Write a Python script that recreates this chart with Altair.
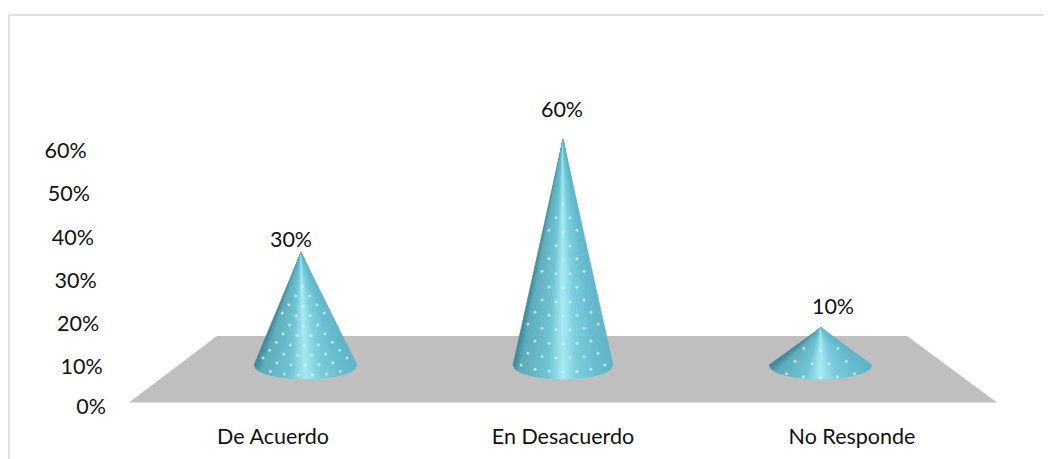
import altair as alt
import pandas as pd

categories = ["De Acuerdo", "En Desacuerdo", "No Responde"]
values = [30, 60, 10]
tick_values = [0, 10, 20, 30, 40, 50, 60]
tick_labels = ["0%", "10%", "20%", "30%", "40%", "50%", "60%"]

W, H = 1036, 451
FONT = "Lato"
FS = 21.5
TXT = "#111111"
CY = 357    # line through the cone base centres, view px
PX = 3.76   # px per percent
DEPTH = 14  # half height of the base ellipse, px
cx = [297.5, 555, 812.5]
hw = [51.5, 50, 51.5]
tip_dx = [-4.5, 0, 0.5]

sx = alt.Scale(domain=[0, W], range=[0, W])
sy = alt.Scale(domain=[CY / PX, (CY - H) / PX], range=[0, H])
spx = alt.Scale(domain=[0, H], range=[0, H])

stops = [
    (-1.0, (62, 135, 150)),
    (-0.85, (92, 172, 188)),
    (-0.3, (110, 196, 212)),
    (0.0, (165, 235, 245)),
    (0.3, (122, 206, 222)),
    (0.7, (102, 190, 208)),
    (1.0, (95, 180, 200)),
]


def shade(t):
    for (t0, c0), (t1, c1) in zip(stops, stops[1:]):
        if t <= t1:
            a = (t - t0) / (t1 - t0)
            rgb = [round(p + (q - p) * a) for p, q in zip(c0, c1)]
            return "#%02x%02x%02x" % tuple(rgb)
    return "#%02x%02x%02x" % stops[-1][1]


# cone wedges: each runs from the apex to one piece of the front base curve
rows = []
N = 48
for idx, (c, v, w, dx) in enumerate(zip(cx, values, hw, tip_dx)):
    for k in range(N):
        t0, t1 = -1 + 2 * k / N, -1 + 2 * (k + 1) / N
        ya = -(DEPTH / PX) * max(0.0, 1 - t0 * t0) ** 0.5
        yb = -(DEPTH / PX) * max(0.0, 1 - t1 * t1) ** 0.5
        tri = sorted([(c + dx, v), (c + w * t0, ya), (c + w * t1, yb)])
        (x0, y0), (x1, y1), (x2, y2) = tri
        other = y0 + (y2 - y0) * (x1 - x0) / (x2 - x0)
        col = shade((t0 + t1) / 2)
        wid = f"{idx}-{k}"
        rows.append({"w": wid, "c": col, "x": x0, "a": y0, "b": y0})
        rows.append({"w": wid, "c": col, "x": x1, "a": y1, "b": other})
        rows.append({"w": wid, "c": col, "x": x2, "a": y2, "b": y2})
cones = pd.DataFrame(rows)

# dot pattern on the cone surface
dots = []
for c, v, w, dx, rows_n, f0 in zip(cx, values, hw, tip_dx, [10, 13, 3], [0.27, 0.27, 0.45]):
    for k in range(rows_n):
        f = f0 + (0.97 - f0) * k / (rows_n - 1)
        half = w * f
        step = 14 if v >= 30 else 17
        off = 0 if k % 2 == 0 else step / 2
        n = int(half / step) + 1
        for j in range(-n, n + 1):
            x = j * step + off
            if abs(x) < half - 3:
                dots.append({
                    "x": c + dx * (1 - f) + x,
                    "y": v * (1 - f) - (DEPTH / PX) * f * (1 - (x / half) ** 2) ** 0.5,
                })
dots = pd.DataFrame(dots)

# floor
front = -(394.5 - CY) / PX
back = (CY - 328) / PX
floor_pts = pd.DataFrame({
    "x": [121, 209, 899, 989],
    "top": [front, back, back, front],
    "low": [front] * 4,
})

floor = alt.Chart(floor_pts).mark_area(color="#bfbfbf", interpolate="linear").encode(
    x=alt.X("x:Q", scale=sx, axis=None),
    y=alt.Y("top:Q", scale=sy, axis=None),
    y2="low:Q",
)

cone = alt.Chart(cones).mark_area(interpolate="linear", strokeWidth=0.6).encode(
    x=alt.X("x:Q", scale=sx, axis=None),
    y=alt.Y("a:Q", scale=sy, axis=None),
    y2="b:Q",
    color=alt.Color("c:N", scale=None),
    stroke=alt.Stroke("c:N", scale=None),
    detail="w:N",
)

dot = alt.Chart(dots).mark_circle(color="#dff8fc", size=9, opacity=0.7).encode(
    x=alt.X("x:Q", scale=sx, axis=None),
    y=alt.Y("y:Q", scale=sy, axis=None),
)

# slanted value axis labels
tick_df = pd.DataFrame({
    "label": tick_labels,
    "v": tick_values,
    "px": [98, 94.7, 91.3, 88.7, 86, 82, 78.7],
    "py": [399.7, 359.7, 317, 274, 231, 187, 143.7],
})
ticks = alt.Chart(tick_df).mark_text(align="right", baseline="middle", font=FONT, fontSize=FS, color=TXT).encode(
    x=alt.X("px:Q", scale=sx, axis=None),
    y=alt.Y("py:Q", scale=spx, axis=None),
    text="label:N",
)

val_df = pd.DataFrame({
    "label": [f"{v}%" for v in values],
    "x": [283, 554, 825],
    "py": [233, 103, 300],
})
val_text = alt.Chart(val_df).mark_text(baseline="middle", font=FONT, fontSize=FS, color=TXT).encode(
    x=alt.X("x:Q", scale=sx, axis=None),
    y=alt.Y("py:Q", scale=spx, axis=None),
    text="label:N",
)

cat_df = pd.DataFrame({
    "label": categories,
    "x": [265, 555, 844],
    "py": [430, 430, 430],
})
cat_text = alt.Chart(cat_df).mark_text(baseline="middle", font=FONT, fontSize=FS, color=TXT).encode(
    x=alt.X("x:Q", scale=sx, axis=None),
    y=alt.Y("py:Q", scale=spx, axis=None),
    text="label:N",
)

frame_h = alt.Chart(pd.DataFrame({"x": [1], "x2": [W], "y": [7]})).mark_rule(color="#e0e0e0", strokeWidth=2).encode(
    x=alt.X("x:Q", scale=sx, axis=None),
    x2="x2:Q",
    y=alt.Y("y:Q", scale=spx, axis=None),
)
frame_v = alt.Chart(pd.DataFrame({"x": [1], "y": [7], "y2": [H]})).mark_rule(color="#e0e0e0", strokeWidth=2).encode(
    x=alt.X("x:Q", scale=sx, axis=None),
    y=alt.Y("y:Q", scale=spx, axis=None),
    y2="y2:Q",
)

chart = alt.layer(frame_h, frame_v, floor, cone, dot, ticks, val_text, cat_text).resolve_scale(
    y="independent"
).properties(
    width=W, height=H, padding=0, autosize=alt.AutoSizeParams(type="none")
).configure_view(stroke=None)

chart.save("out.html", embed_options={"renderer": "svg", "actions": False})
